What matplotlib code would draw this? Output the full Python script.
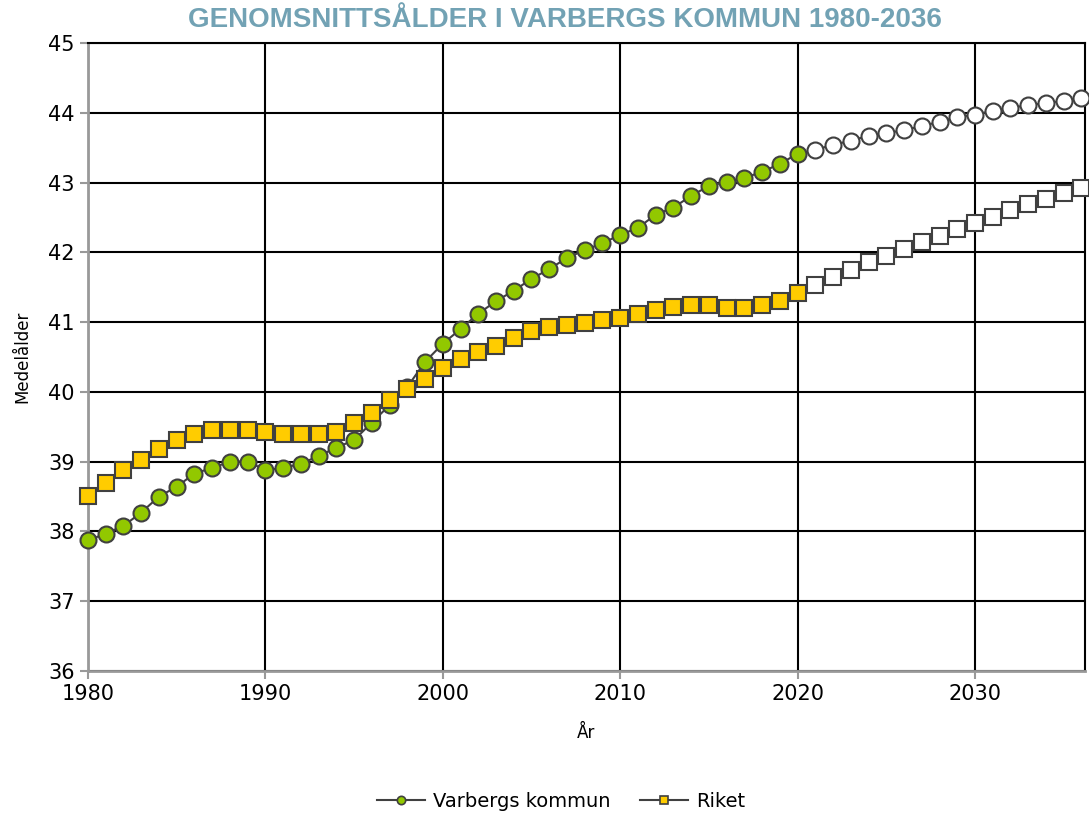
import matplotlib.pyplot as plt
from matplotlib.lines import Line2D

years = list(range(1980, 2037))
last_actual = 2020

varberg = [37.87, 37.97, 38.08, 38.27, 38.50, 38.64, 38.83, 38.91, 39.00, 39.00,
           38.88, 38.91, 38.97, 39.08, 39.20, 39.31, 39.56, 39.81, 40.07, 40.43,
           40.69, 40.90, 41.12, 41.30, 41.45, 41.62, 41.76, 41.92, 42.03, 42.13,
           42.25, 42.35, 42.54, 42.64, 42.81, 42.95, 43.01, 43.07, 43.15, 43.27,
           43.41, 43.47, 43.54, 43.60, 43.67, 43.71, 43.75, 43.81, 43.87, 43.94,
           43.97, 44.03, 44.07, 44.11, 44.14, 44.17, 44.21]

riket = [38.51, 38.70, 38.88, 39.03, 39.18, 39.31, 39.40, 39.46, 39.46, 39.46,
         39.43, 39.40, 39.40, 39.40, 39.43, 39.56, 39.70, 39.89, 40.04, 40.19,
         40.34, 40.47, 40.57, 40.66, 40.77, 40.87, 40.93, 40.96, 40.99, 41.03,
         41.06, 41.12, 41.17, 41.22, 41.25, 41.25, 41.20, 41.20, 41.25, 41.30,
         41.42, 41.53, 41.65, 41.75, 41.86, 41.95, 42.05, 42.15, 42.23, 42.34,
         42.42, 42.51, 42.61, 42.69, 42.77, 42.85, 42.92]

green = '#92c800'
gul = '#ffcc00'
linje = '#404040'

fig = plt.figure(figsize=(10.89, 8.14), dpi=100)
ax = fig.add_axes([0.0808, 0.1757, 0.9155, 0.7715])

n = years.index(last_actual) + 1

for serie, mark, farg, ms in [(varberg, 'o', green, 11.5), (riket, 's', gul, 12)]:
    ax.plot(years, serie, color=linje, lw=1.5, zorder=3)
    ax.plot(years[:n], serie[:n], ls='none', marker=mark, ms=ms,
            mfc=farg, mec=linje, mew=1.5, zorder=4, clip_on=False)
    ax.plot(years[n:], serie[n:], ls='none', marker=mark, ms=ms,
            mfc='white', mec=linje, mew=1.5, zorder=4, clip_on=False)

ax.set_xlim(1980, 2036.2)
ax.set_ylim(36, 45)
ax.set_xticks(range(1980, 2031, 10))
ax.set_yticks(range(36, 46))
ax.grid(True, color='black', lw=1.5, zorder=1)
ax.tick_params(labelsize=15, color='#999999', width=1.5, length=6)
for s in ['top', 'right']:
    ax.spines[s].set_color('black')
    ax.spines[s].set_linewidth(1.5)
for s in ['left', 'bottom']:
    ax.spines[s].set_color('#999999')
    ax.spines[s].set_linewidth(2)

ax.set_ylabel('Medelålder', fontsize=12, labelpad=12)
ax.set_xlabel('År', fontsize=12, labelpad=14)

fig.text(0.519, 0.975, 'GENOMSNITTSÅLDER I VARBERGS KOMMUN 1980-2036', ha='center', va='center',
         fontsize=20, fontweight='bold', color='#72a2b4', family=['Liberation Sans', 'DejaVu Sans'])

handles = [
    Line2D([], [], color=linje, lw=1.5, marker='o', ms=6, mfc=green, mec=linje, mew=1.2),
    Line2D([], [], color=linje, lw=1.5, marker='s', ms=6, mfc=gul, mec=linje, mew=1.2),
]
fig.legend(handles, ['Varbergs kommun', 'Riket'], loc='center', bbox_to_anchor=(0.515, 0.015),
           ncol=2, frameon=False, fontsize=14, handlelength=2.5, handletextpad=0.4,
           columnspacing=1.5)

fig.savefig('out.png', dpi=100)
